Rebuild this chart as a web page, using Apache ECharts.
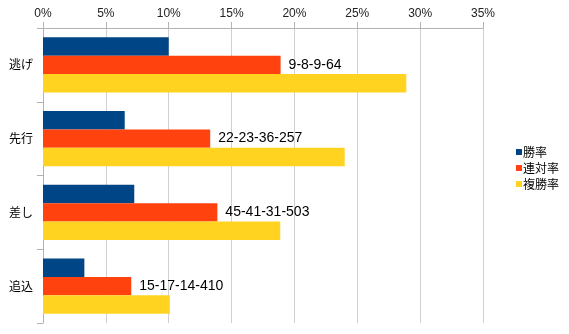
<!DOCTYPE html>
<html><head><meta charset="utf-8">
<script src="https://cdn.jsdelivr.net/npm/echarts@6/dist/echarts.min.js"></script>
<style>html,body{margin:0;padding:0;background:#fff}#c{width:569px;height:334px}</style>
</head><body><div id="c"></div>
<script>
const categories = ['逃げ', '先行', '差し', '追込'];
const seriesNames = ['勝率', '連対率', '複勝率'];
const winRate = [10.0, 6.5, 7.26, 3.29];
const placeRate = [18.9, 13.3, 13.87, 7.02];
const showRate = [28.9, 24.0, 18.87, 10.09];
const recordLabels = ['9-8-9-64', '22-23-36-257', '45-41-31-503', '15-17-14-410'];
const xTicks = [0, 5, 10, 15, 20, 25, 30, 35];
const colors = ['#004586', '#ff420e', '#ffd320'];

const chart = echarts.init(document.getElementById('c'));
const font = '"Liberation Sans", Arial, sans-serif';
const cjk = '"Noto Sans CJK JP", sans-serif';
chart.setOption({
  animation: false,
  color: colors,
  grid: { left: 43, right: 86, top: 28, bottom: 11, containLabel: false },
  legend: {
    orient: 'vertical', left: 511, top: 141,
    itemWidth: 6, itemHeight: 6, itemGap: 4, icon: 'rect',
    textStyle: { fontFamily: cjk, fontSize: 12, color: '#000', padding: [0, 0, 0, -4] },
    data: seriesNames
  },
  xAxis: {
    type: 'value', position: 'top', min: xTicks[0], max: xTicks[xTicks.length - 1], interval: 5,
    axisLine: { show: true, lineStyle: { color: '#b3b3b3' } },
    axisTick: { show: true, length: 6, lineStyle: { color: '#b3b3b3' } },
    splitLine: { show: true, lineStyle: { color: '#d0d0d0' } },
    axisLabel: { formatter: v => v + '%', fontFamily: font, fontSize: 12, color: '#222', margin: 8 }
  },
  yAxis: {
    type: 'category', data: categories, inverse: true,
    axisLine: { show: true, lineStyle: { color: '#b3b3b3' } },
    axisTick: { show: true, length: 6, lineStyle: { color: '#b3b3b3' } },
    axisLabel: { fontFamily: cjk, fontSize: 12, color: '#000', margin: 10 }
  },
  series: [
    { name: seriesNames[0], type: 'bar', data: winRate, barGap: '0%', barCategoryGap: '25%' },
    { name: seriesNames[1], type: 'bar', data: placeRate, barGap: '0%', barCategoryGap: '25%',
      label: { show: true, position: 'right', distance: 8, formatter: p => recordLabels[p.dataIndex],
        fontFamily: font, fontSize: 14, color: '#000' } },
    { name: seriesNames[2], type: 'bar', data: showRate, barGap: '0%', barCategoryGap: '25%' }
  ]
});
</script></body></html>
